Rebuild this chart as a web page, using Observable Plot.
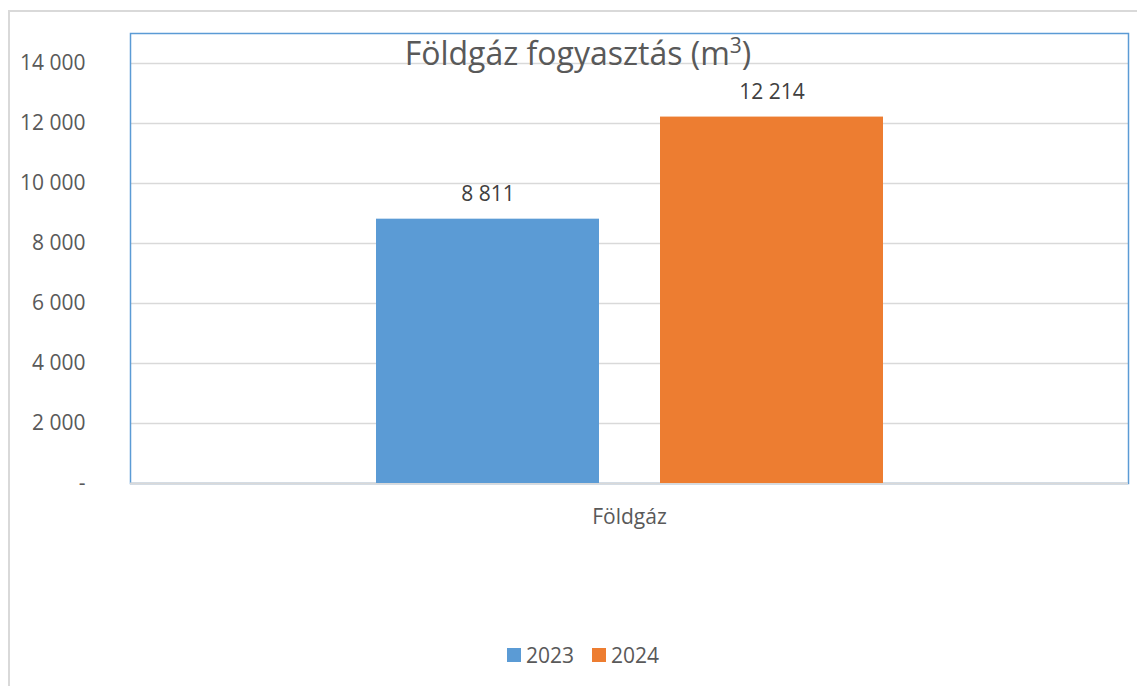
<!DOCTYPE html>
<html>
<head>
<meta charset="utf-8">
<script src="https://cdn.jsdelivr.net/npm/d3@7"></script>
<script src="https://cdn.jsdelivr.net/npm/@observablehq/plot@0.6"></script>
<style>
  html, body { margin: 0; padding: 0; background: #fff; }
  #wrap { position: relative; width: 1137px; height: 686px; overflow: hidden; font-family: "Open Sans", sans-serif; color: #595959; }
  #outer { position: absolute; left: 8px; top: 10px; width: 1200px; height: 800px; border-top: 2px solid #d9d9d9; border-left: 2px solid #d9d9d9; box-sizing: border-box; }
  #chart { position: absolute; left: 0; top: 0; }
  #title { position: absolute; left: 0; width: 1156px; top: 37px; text-align: center; font-size: 32px; line-height: 32px; color: #595959; }
  #title sup { font-size: 21px; vertical-align: 0; position: relative; top: -12px; }
  #legend { position: absolute; left: 0; width: 1166px; top: 643px; display: flex; justify-content: center; gap: 18px; font-size: 21px; line-height: 24px; }
  .item { display: flex; align-items: center; gap: 5px; }
  .sw { width: 14px; height: 14px; display: inline-block; }
</style>
</head>
<body>
<div id="wrap">
  <div id="outer"></div>
  <div id="chart"></div>
  <div id="title">Földgáz fogyasztás (m<sup>3</sup>)</div>
  <div id="legend"></div>
</div>
<script>
const categories = ["Földgáz"];
const years = ["2023", "2024"];
const values = [8811, 12214];
const colors = ["#5b9bd5", "#ed7d31"];
const yTicks = [0, 2000, 4000, 6000, 8000, 10000, 12000, 14000];

const table = years.map((y, i) => ({category: categories[0], year: y, value: values[i]}));
const loc = d3.formatLocale({decimal: ",", thousands: " ", grouping: [3], currency: ["", ""]});
const fmt = loc.format(",");
const tickFmt = d => d === 0 ? "-" : fmt(d);

const plot = Plot.plot({
  width: 1137,
  height: 540,
  marginTop: 33,
  marginLeft: 130,
  marginRight: 9,
  marginBottom: 57,
  style: {fontFamily: "Open Sans", fontSize: "21px", color: "#595959", background: "transparent"},
  fx: {domain: categories, padding: 0, label: null, axis: null},
  x: {domain: years, paddingInner: 0.215, paddingOuter: 0.864, axis: null},
  y: {domain: [0, 15000], axis: null},
  color: {domain: years, range: colors},
  marks: [
    Plot.gridY(yTicks, {stroke: "#d9d9d9", strokeOpacity: 1, strokeWidth: 1.5}),
    Plot.frame({stroke: "#5b9bd5", strokeWidth: 1.5}),
    Plot.ruleY([0], {stroke: "#d9d9d9", strokeWidth: 2}),
    Plot.axisY({ticks: yTicks, tickFormat: tickFmt, tickSize: 0, tickPadding: 45, fontSize: 21, label: null}),
    Plot.axisFx({anchor: "bottom", tickSize: 0, tickPadding: 26, fontSize: 21, label: null}),
    Plot.barY(table, {fx: "category", x: "year", y: "value", fill: "year"}),
    Plot.text(table, {fx: "category", x: "year", y: "value", text: d => fmt(d.value), dy: -25, fontSize: 21, fill: "#404040"})
  ]
});
document.getElementById("chart").appendChild(plot);

const legend = document.getElementById("legend");
years.forEach((y, i) => {
  const item = document.createElement("div");
  item.className = "item";
  const sw = document.createElement("span");
  sw.className = "sw";
  sw.style.background = colors[i];
  const t = document.createElement("span");
  t.textContent = y;
  item.appendChild(sw);
  item.appendChild(t);
  legend.appendChild(item);
});
</script>
</body>
</html>
